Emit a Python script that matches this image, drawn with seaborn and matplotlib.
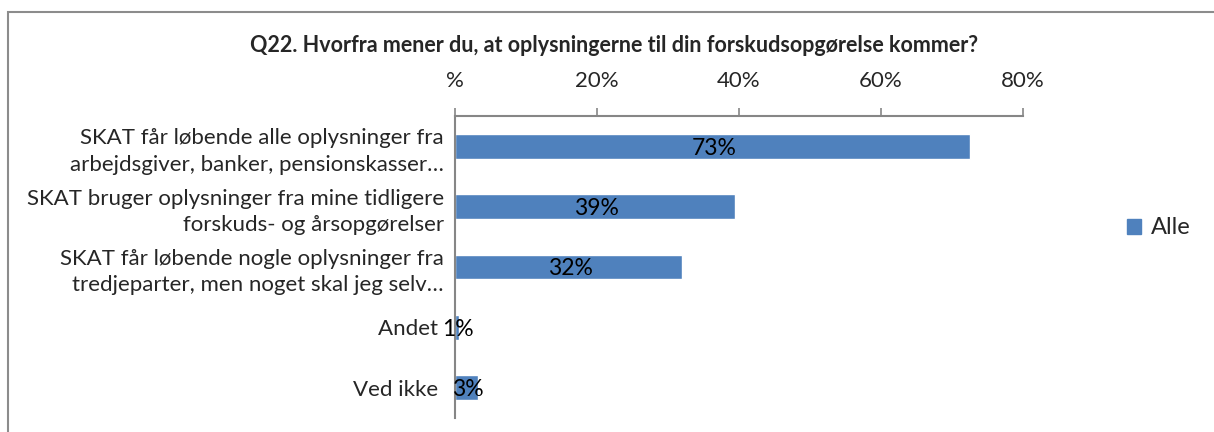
import matplotlib
matplotlib.use("Agg")
import matplotlib.pyplot as plt
import matplotlib.patches as mpatches
import seaborn as sns
import pandas as pd

categories = [
    "SKAT får løbende alle oplysninger fra\narbejdsgiver, banker, pensionskasser…",
    "SKAT bruger oplysninger fra mine tidligere\nforskuds- og årsopgørelser",
    "SKAT får løbende nogle oplysninger fra\ntredjeparter, men noget skal jeg selv…",
    "Andet ",
    "Ved ikke ",
]
values = [72.6, 39.4, 32.0, 0.5, 3.3]
labels = ["73%", "39%", "32%", "1%", "3%"]
tick_vals = [0, 20, 40, 60, 80]
tick_labels = ["%", "20%", "40%", "60%", "80%"]
title = "Q22. Hvorfra mener du, at oplysningerne til din forskudsopgørelse kommer?"
series_name = "Alle"

bar_color = "#4F81BD"
axis_color = "#868686"

sns.set_style("white")
plt.rcParams["font.family"] = ["Lato", "DejaVu Sans"]

df = pd.DataFrame({"cat": categories, "val": values})

fig = plt.figure(figsize=(12.14, 4.32), dpi=100)
ax = fig.add_axes([455 / 1214, 1 - 418 / 432, (1023 - 455) / 1214, (418 - 116) / 432])

sns.barplot(data=df, x="val", y="cat", orient="h", color=bar_color,
            width=0.41, saturation=1, ax=ax)

ax.set_xlim(0, 80)
ax.set_ylim(4.5, -0.5)
ax.xaxis.tick_top()
ax.set_xticks(tick_vals)
ax.set_xticklabels(tick_labels, fontsize=16)
ax.tick_params(axis="x", which="major", direction="out", length=6, width=1.2,
               color=axis_color, pad=12)
ax.set_xlabel("")
ax.set_ylabel("")

# category labels, ticks sit between categories
ax.set_yticks(range(len(categories)))
ax.set_yticklabels(categories, fontsize=16, linespacing=1.4, ha="right")
ax.tick_params(axis="y", which="major", length=0, pad=8)
ax.set_yticks([i + 0.5 for i in range(-1, len(categories))], minor=True)
ax.tick_params(axis="y", which="minor", direction="out", length=4.5, width=1.2,
               color=axis_color)

for s in ["right", "bottom"]:
    ax.spines[s].set_visible(False)
for s in ["top", "left"]:
    ax.spines[s].set_color(axis_color)
    ax.spines[s].set_linewidth(1.5)

for i, (v, lab) in enumerate(zip(values, labels)):
    ax.text(v / 2 + 0.2, i + 0.03, lab, ha="center", va="center", fontsize=16.5,
            color="black")

fig.text(614 / 1214, 1 - 46 / 432, title, ha="center", va="center",
         fontsize=15.5, fontweight="bold")

handle = mpatches.Patch(color=bar_color, label=series_name)
fig.legend(handles=[handle], loc="center left", bbox_to_anchor=(1106 / 1214, 1 - 228 / 432),
           frameon=False, fontsize=17, handlelength=0.6, handleheight=0.6,
           handletextpad=0.4)

frame = mpatches.Rectangle((8 / 1214, -0.2), 1.2, 1.2 + (1 - 12 / 432) - 1,
                           transform=fig.transFigure, fill=False,
                           edgecolor="#8c8c8c", linewidth=1.5)
fig.patches.append(frame)

fig.savefig("out.png", dpi=100)
